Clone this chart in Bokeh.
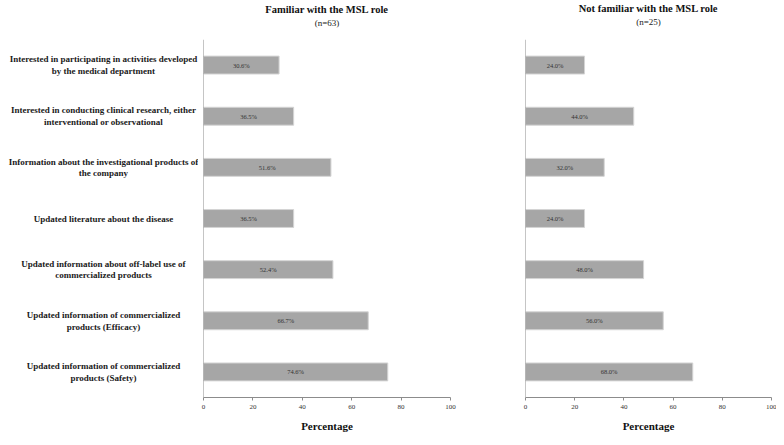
from bokeh.plotting import figure
from bokeh.models import FactorRange, Range1d, Title, ColumnDataSource, Span
from bokeh.layouts import row
from bokeh.core.properties import value
from bokeh.embed import file_html
from bokeh.resources import INLINE

# ---------------- data ----------------
categories = [
    "Interested in participating in activities developed by the medical department",
    "Interested in conducting clinical research, either interventional or observational",
    "Information about the investigational products of the company",
    "Updated literature about the disease",
    "Updated information about off-label use of commercialized products",
    "Updated information of commercialized products (Efficacy)",
    "Updated information of commercialized products (Safety)",
]
category_labels = [
    "Interested in participating in activities developed\nby the medical department",
    "Interested in conducting clinical research, either\ninterventional or observational",
    "Information about the investigational products of\nthe company",
    "Updated literature about the disease",
    "Updated information about off-label use of\ncommercialized products",
    "Updated information of commercialized\nproducts (Efficacy)",
    "Updated information of commercialized\nproducts (Safety)",
]
familiar = [30.6, 36.5, 51.6, 36.5, 52.4, 66.7, 74.6]
not_familiar = [24.0, 44.0, 32.0, 24.0, 48.0, 56.0, 68.0]
panel_titles = ["Familiar with the MSL role", "Not familiar with the MSL role"]
panel_n = ["(n=63)", "(n=25)"]
x_ticks = [0, 20, 40, 60, 80, 100]
x_label = "Percentage"

# ---------------- style ----------------
FONT = "Liberation Serif"
H = 437
TOP = 36
BOT = 40
BAR_FILL = "#a6a6a6"
BAR_LINE = "#d4d4d4"
AXIS_COL = "#8c8c8c"

yr = FactorRange(factors=categories[::-1])

# label column
pa = figure(width=198, height=H, x_range=Range1d(0, 1), y_range=yr,
            output_backend="svg", toolbar_location=None,
            min_border_top=TOP, min_border_bottom=BOT,
            min_border_left=0, min_border_right=0)
pa.axis.visible = False
pa.grid.visible = False
pa.outline_line_color = None
pa.background_fill_color = None
pa.border_fill_color = None
lab_src = ColumnDataSource(dict(cat=categories, lab=category_labels,
                                x=[0.52] * len(categories)))
pa.text(x="x", y="cat", text="lab", source=lab_src,
        text_align="center", text_baseline="middle",
        text_font=value(FONT), text_font_style="bold",
        text_font_size="9px", text_line_height=1.15, text_color="#1a1a1a")


def make_panel(vals, title, n, mbl, mbr, frame_w, spacer):
    p = figure(width=mbl + frame_w + mbr, height=H,
               x_range=Range1d(0, 100), y_range=yr,
               output_backend="svg", toolbar_location=None,
               min_border_top=TOP, min_border_bottom=BOT,
               min_border_left=mbl, min_border_right=mbr)
    p.grid.visible = False
    p.outline_line_color = None
    src = ColumnDataSource(dict(cat=categories, val=vals,
                                mid=[v / 2 for v in vals],
                                txt=["%.1f%%" % v for v in vals]))
    p.hbar(y="cat", left=0, right="val", height=0.35, source=src,
           fill_color=BAR_FILL, line_color=BAR_LINE, line_width=1)
    p.text(x="mid", y="cat", text="txt", source=src,
           text_align="center", text_baseline="middle",
           text_font=value(FONT), text_font_size="6.5px", text_color="#333333")

    # x axis
    xa = p.xaxis[0]
    xa.ticker = x_ticks
    xa.axis_line_color = AXIS_COL
    xa.major_tick_line_color = AXIS_COL
    xa.major_tick_out = 3
    xa.major_tick_in = 0
    xa.minor_tick_line_color = None
    xa.major_label_standoff = 4
    xa.major_label_text_font = FONT
    xa.major_label_text_font_size = "7px"
    xa.major_label_text_color = "#333333"
    xa.axis_label = x_label
    xa.axis_label_text_font = FONT
    xa.axis_label_text_font_size = "11px"
    xa.axis_label_text_font_style = "bold"
    xa.axis_label_text_color = "#111111"
    xa.axis_label_standoff = 8

    # vertical axis line only (no labels)
    p.yaxis.visible = False
    p.add_layout(Span(location=0, dimension="height",
                      line_color=AXIS_COL, line_width=1))

    # spacer between frame and the two title lines
    p.add_layout(Title(text=" ", text_font_size="1px", standoff=spacer), "above")
    p.add_layout(Title(text=n, align="center", text_font=FONT,
                       text_font_size="9px", text_font_style="normal",
                       text_color="#222222", standoff=2), "above")
    p.add_layout(Title(text=title, align="center", text_font=FONT,
                       text_font_size="10.5px", text_font_style="bold",
                       text_color="#111111", standoff=0), "above")
    return p


pb = make_panel(familiar, panel_titles[0], panel_n[0], 5, 35, 247, 8)
pc = make_panel(not_familiar, panel_titles[1], panel_n[1], 40, 5, 246, 9)

layout = row(pa, pb, pc)
open("out.html", "w").write(file_html(layout, INLINE))
